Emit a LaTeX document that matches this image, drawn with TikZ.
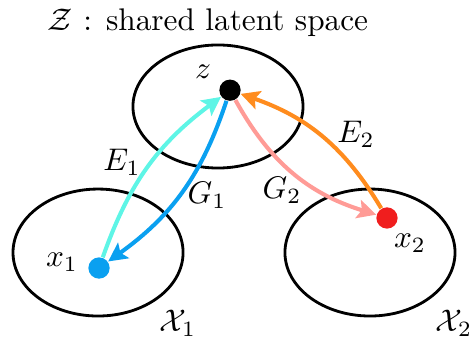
\documentclass[tikz,border=0pt]{standalone}
\usetikzlibrary{arrows.meta}
\definecolor{encone}{RGB}{94,245,230}
\definecolor{genone}{RGB}{10,160,240}
\definecolor{gentwo}{RGB}{255,155,150}
\definecolor{enctwo}{RGB}{255,140,30}
\definecolor{xtwored}{RGB}{240,30,30}

\begin{document}
\begin{tikzpicture}[
    space/.style={line width=0.9pt},
    dot/.style={circle,fill=#1,inner sep=0pt,minimum size=6.8pt},
    map/.style={line width=1.3pt,draw=#1,-{Stealth[length=6pt,width=6pt,inset=1.2pt]}}
]
    \useasboundingbox (0,0) rectangle (5.323,3.852);
    % the three spaces
    \draw[space] (2.448,2.656) ellipse (0.955 and 0.691);
    \draw[space] (1.101,1.016) ellipse (0.955 and 0.713);
    \draw[space] (4.155,1.016) ellipse (0.955 and 0.713);
    \node (title) at (2.336,3.594) {$\mathcal{Z}$ : shared latent space};
    \node (Xone) at (1.999,0.219) {$\mathcal{X}_1$};
    \node (Xtwo) at (5.098,0.219) {$\mathcal{X}_2$};
    % points
    \node[dot=black] (z) at (2.583,2.839) {};
    \node[dot=genone] (xone) at (1.112,0.842) {};
    \node[dot=xtwored] (xtwo) at (4.346,1.404) {};
    \node (zlab) at (2.280,3.043) {$z$};
    \node (xonelab) at (0.696,0.910) {$x_1$};
    \node (xtwolab) at (4.604,1.123) {$x_2$};
    % encoders and generators
    \draw[map=encone] (xone) to[bend left=17] (z);
    \draw[map=genone] (z) to[bend left=18] (xone);
    \draw[map=gentwo] (z) to[bend right=22] (xtwo);
    \draw[map=enctwo] (xtwo) to[bend right=20] (z);
    \node (Eone) at (1.370,2.033) {$E_1$};
    \node (Gone) at (2.325,1.662) {$G_1$};
    \node (Gtwo) at (3.167,1.718) {$G_2$};
    \node (Etwo) at (3.998,2.340) {$E_2$};
\end{tikzpicture}
\end{document}
